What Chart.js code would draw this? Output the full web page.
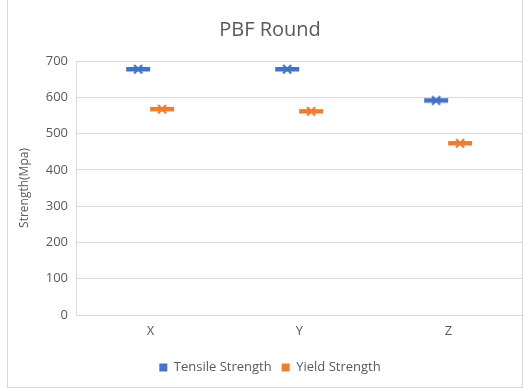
<!DOCTYPE html>
<html>
<head>
<meta charset="utf-8">
<script src="https://cdn.jsdelivr.net/npm/chart.js@4/dist/chart.umd.min.js"></script>
<style>
  html, body { margin: 0; padding: 0; background: #ffffff; }
  #wrap { position: relative; width: 529px; height: 391px; }
  #frame { position: absolute; left: 7px; top: -1px; width: 516px; height: 389px; border: 1px solid #d9d9d9; box-sizing: border-box; pointer-events: none; }
  canvas { position: absolute; left: 0; top: 0; }
</style>
</head>
<body>
<div id="wrap">
  <canvas id="c" width="529" height="391"></canvas>
  <div id="frame"></div>
</div>
<script>
// Orientation categories and measured strengths (MPa)
const categories = ['X', 'Y', 'Z'];
const tensileStrength = [678, 678, 592];
const yieldStrength = [568, 562, 474];
const yTicks = [0, 100, 200, 300, 400, 500, 600, 700];

const FONT = "'Open Sans', 'DejaVu Sans', sans-serif";
const TEXT = '#595959';
const BLUE = '#4472C4';
const ORANGE = '#ED7D31';

// Marker: thick horizontal dash with an x through the middle
function makeMarker(color) {
  const c = document.createElement('canvas');
  c.width = 26; c.height = 14;
  const g = c.getContext('2d');
  g.fillStyle = color;
  g.fillRect(1, 5, 24, 4.5);
  g.strokeStyle = color;
  g.lineWidth = 2.2;
  g.beginPath();
  g.moveTo(9, 3); g.lineTo(17, 11.5);
  g.moveTo(17, 3); g.lineTo(9, 11.5);
  g.stroke();
  return c;
}

// Side-by-side placement of the two series within each category
const seriesShift = { tensile: -0.083, yield: 0.078 };
const toPoints = (vals, shift) => vals.map((v, i) => ({ x: i + shift, y: v }));

new Chart(document.getElementById('c'), {
  type: 'scatter',
  data: {
    datasets: [
      {
        label: 'Tensile Strength',
        data: toPoints(tensileStrength, seriesShift.tensile),
        pointStyle: makeMarker(BLUE),
        backgroundColor: BLUE,
        borderColor: BLUE
      },
      {
        label: 'Yield Strength',
        data: toPoints(yieldStrength, seriesShift.yield),
        pointStyle: makeMarker(ORANGE),
        backgroundColor: ORANGE,
        borderColor: ORANGE
      }
    ]
  },
  options: {
    responsive: false,
    animation: false,
    layout: { padding: { left: 17, right: 6, top: 0, bottom: 7 } },
    plugins: {
      tooltip: { enabled: false },
      title: {
        display: true,
        text: 'PBF Round',
        color: TEXT,
        font: { family: FONT, size: 20, weight: 'normal' },
        padding: { top: 18, bottom: 19 }
      },
      legend: {
        position: 'bottom',
        labels: {
          color: TEXT,
          font: { family: FONT, size: 13 },
          boxWidth: 8,
          boxHeight: 8,
          padding: 10,
          generateLabels: (chart) => chart.data.datasets.map((d, i) => ({
            text: d.label,
            fillStyle: d.backgroundColor,
            strokeStyle: d.backgroundColor,
            lineWidth: 0,
            pointStyle: 'rect',
            fontColor: TEXT,
            datasetIndex: i
          }))
        }
      }
    },
    scales: {
      x: {
        type: 'linear',
        min: -0.5,
        max: 2.5,
        afterBuildTicks: (s) => { s.ticks = categories.map((_, i) => ({ value: i })); },
        ticks: {
          color: TEXT,
          font: { family: FONT, size: 13 },
          padding: 8,
          callback: (v) => categories[v]
        },
        grid: { display: false, drawTicks: false },
        border: { display: true, color: '#d9d9d9', width: 1 },
        afterFit: (s) => { s.height = 36; }
      },
      y: {
        min: 0,
        max: 700,
        afterBuildTicks: (s) => { s.ticks = yTicks.map(v => ({ value: v })); },
        ticks: {
          color: TEXT,
          font: { family: FONT, size: 13 },
          padding: 8
        },
        title: {
          display: true,
          text: 'Strength(Mpa)',
          color: TEXT,
          font: { family: FONT, size: 12 },
          padding: { top: 0, bottom: 4 }
        },
        grid: { color: '#d9d9d9', drawTicks: false },
        border: { display: true, color: '#d9d9d9', width: 1 },
        afterFit: (s) => { s.width = 59; }
      }
    }
  }
});
</script>
</body>
</html>
